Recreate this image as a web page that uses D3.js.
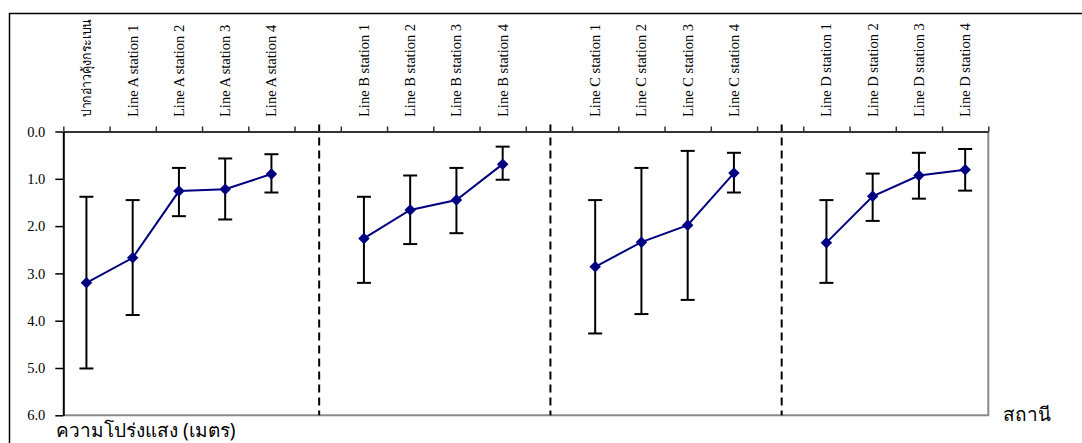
<!DOCTYPE html>
<html>
<head>
<meta charset="utf-8">
<script src="https://cdn.jsdelivr.net/npm/d3@7"></script>
<style>
  html, body { margin: 0; padding: 0; background: #ffffff; }
  svg { display: block; }
</style>
</head>
<body>
<svg id="chart" width="1082" height="443"></svg>
<script>
// Station categories along the x axis (blank slots separate the transect lines)
const categories = [
  "ปากอ่าวคุ้งกระเบน",
  "Line A station 1", "Line A station 2", "Line A station 3", "Line A station 4",
  "",
  "Line B station 1", "Line B station 2", "Line B station 3", "Line B station 4",
  "",
  "Line C station 1", "Line C station 2", "Line C station 3", "Line C station 4",
  "",
  "Line D station 1", "Line D station 2", "Line D station 3", "Line D station 4"
];

// Water transparency (m) per group: mean, lower and upper error-bar ends
const groupMouth = { idx: [0],             mean: [3.20],                   lo: [1.38],                   hi: [5.01] };
const groupA     = { idx: [1, 2, 3, 4],    mean: [2.67, 1.26, 1.22, 0.90], lo: [1.45, 0.77, 0.57, 0.48], hi: [3.88, 1.79, 1.86, 1.29] };
const groupB     = { idx: [6, 7, 8, 9],    mean: [2.26, 1.66, 1.45, 0.69], lo: [1.38, 0.93, 0.77, 0.32], hi: [3.20, 2.38, 2.15, 1.02] };
const groupC     = { idx: [11, 12, 13, 14],mean: [2.86, 2.34, 1.98, 0.88], lo: [1.45, 0.77, 0.41, 0.45], hi: [4.27, 3.86, 3.56, 1.29] };
const groupD     = { idx: [16, 17, 18, 19],mean: [2.35, 1.37, 0.93, 0.81], lo: [1.45, 0.89, 0.45, 0.37], hi: [3.20, 1.89, 1.42, 1.25] };

// The line for the bay mouth continues into Line A
const connectedSeries = [
  { idx: groupMouth.idx.concat(groupA.idx), mean: groupMouth.mean.concat(groupA.mean), lo: groupMouth.lo.concat(groupA.lo), hi: groupMouth.hi.concat(groupA.hi) },
  groupB, groupC, groupD
];

// Empty slots where dashed separators are drawn
const separatorSlots = [5, 10, 15];

const yTicks = [0, 1, 2, 3, 4, 5, 6];
const yTitle = "ความโปร่งแสง (เมตร)";
const xTitle = "สถานี";

const svg = d3.select("#chart");

const plotLeft = 63.3, plotRight = 988.3, plotTop = 131.5, plotBottom = 415.3;
const serif = "'Liberation Serif', 'Times New Roman', serif";
const sans = "Tahoma, 'Noto Sans', 'DejaVu Sans', sans-serif";

const xEdge = d3.scaleLinear().domain([0, categories.length]).range([plotLeft, plotRight]);
const xMid = i => xEdge(i + 0.5);
const y = d3.scaleLinear().domain([0, 6]).range([plotTop, plotBottom]);

// Outer frame (runs off the right and bottom edges)
svg.append("path")
  .attr("d", `M9.5,443 L9.5,13.5 L1082,13.5`)
  .attr("fill", "none").attr("stroke", "#000").attr("stroke-width", 1.5);

// Plot-area border on the right and bottom
svg.append("path")
  .attr("d", `M${plotLeft},${plotBottom} L${plotRight},${plotBottom} L${plotRight},${plotTop}`)
  .attr("fill", "none").attr("stroke", "#8a8a8a").attr("stroke-width", 2);

// Dashed separators between transect lines
svg.append("g").selectAll("line")
  .data(separatorSlots)
  .join("line")
  .attr("x1", d => xMid(d) + 1.5).attr("x2", d => xMid(d) + 1.5)
  .attr("y1", plotTop - 7).attr("y2", plotBottom)
  .attr("stroke", "#000").attr("stroke-width", 2)
  .attr("stroke-dasharray", "8,5");

// Top category axis with ticks at slot boundaries
const topAxis = svg.append("g")
  .attr("transform", `translate(0,${plotTop})`)
  .call(d3.axisTop(xEdge).tickValues(d3.range(categories.length + 1)).tickSize(5).tickSizeOuter(0).tickFormat(""));
topAxis.select(".domain").attr("stroke", "#333").attr("stroke-width", 2);
topAxis.selectAll(".tick line").attr("stroke", "#333").attr("stroke-width", 1.5);

// Rotated category labels
const catLabels = svg.append("g").selectAll("text")
  .data(categories.map((c, i) => ({ c, i })).filter(d => d.c !== ""))
  .join("text")
  .attr("transform", d => `translate(${xMid(d.i) + 5},117) rotate(-90)`)
  .attr("text-anchor", "start")
  .attr("font-family", serif)
  .attr("font-size", d => d.i === 0 ? 13 : 14.5)
  .attr("fill", "#000")
  .text(d => d.c);
// The Thai station name is fitted to the space above the axis
catLabels.filter(d => d.i === 0)
  .attr("textLength", 98)
  .attr("lengthAdjust", "spacingAndGlyphs");

// Left value axis (depth increases downward)
const leftAxis = svg.append("g")
  .attr("transform", `translate(${plotLeft},0)`)
  .call(d3.axisLeft(y).tickValues(yTicks).tickFormat(d3.format(".1f")).tickSize(8).tickSizeOuter(0).tickPadding(10));
leftAxis.select(".domain").attr("stroke", "#000").attr("stroke-width", 2);
leftAxis.selectAll(".tick line").attr("stroke", "#000").attr("stroke-width", 1.5);
leftAxis.selectAll(".tick text")
  .attr("font-family", serif)
  .attr("font-size", 14.5)
  .attr("fill", "#000");

// Error bars
const errG = svg.append("g");
connectedSeries.forEach(s => {
  const rows = s.idx.map((k, j) => ({ k, lo: s.lo[j], hi: s.hi[j] }));
  errG.append("g").selectAll("line").data(rows).join("line")
    .attr("x1", d => xMid(d.k)).attr("x2", d => xMid(d.k))
    .attr("y1", d => y(d.lo)).attr("y2", d => y(d.hi))
    .attr("stroke", "#000").attr("stroke-width", 2);
  ["lo", "hi"].forEach(key => {
    errG.append("g").selectAll("line").data(rows).join("line")
      .attr("x1", d => xMid(d.k) - 7).attr("x2", d => xMid(d.k) + 7)
      .attr("y1", d => y(d[key])).attr("y2", d => y(d[key]))
      .attr("stroke", "#000").attr("stroke-width", 2);
  });
});

// Mean lines and diamond markers
const line = d3.line().x(d => xMid(d.k)).y(d => y(d.v));
const diamond = d3.symbol().type(d3.symbolSquare).size(66);
connectedSeries.forEach(s => {
  const pts = s.idx.map((k, j) => ({ k, v: s.mean[j] }));
  svg.append("path").datum(pts)
    .attr("d", line)
    .attr("fill", "none").attr("stroke", "#000080").attr("stroke-width", 2);
  svg.append("g").selectAll("path").data(pts).join("path")
    .attr("d", diamond)
    .attr("transform", d => `translate(${xMid(d.k)},${y(d.v)}) rotate(45)`)
    .attr("fill", "#000080");
});

// Axis titles
svg.append("text")
  .attr("x", 56).attr("y", 437)
  .attr("font-family", sans)
  .attr("font-size", 19)
  .attr("fill", "#000")
  .text(yTitle);

svg.append("text")
  .attr("x", 1003).attr("y", 421)
  .attr("font-family", sans)
  .attr("font-size", 19)
  .attr("fill", "#000")
  .text(xTitle);
</script>
</body>
</html>
